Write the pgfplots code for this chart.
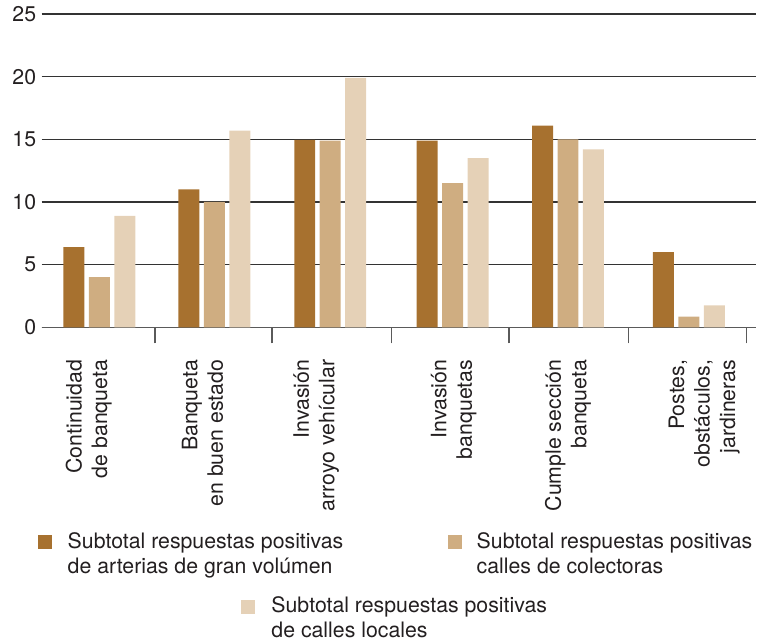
\documentclass[border=0pt]{standalone}
\usepackage{fontspec}
\setmainfont{TeX Gyre Heros}
\usepackage{pgfplots}
\pgfplotsset{compat=1.18}
\definecolor{cA}{HTML}{A7712F}
\definecolor{cB}{HTML}{CFAD81}
\definecolor{cC}{HTML}{E5D1B7}
\definecolor{txt}{HTML}{231F20}
\definecolor{axgray}{HTML}{5A5A5A}
\newcommand{\lf}{\fontsize{21.3}{25.5}\selectfont}
\begin{document}
\begin{tikzpicture}
\begin{axis}[
  x=118pt, y=12.55pt,
  xmin=-0.49, xmax=5.572, ymin=0, ymax=25,
  axis lines*=left,
  x axis line style={draw=axgray, line width=1.5pt},
  y axis line style={draw=none},
  ytick={0,5,...,25},
  ymajorgrids,
  grid style={draw=black!80, line width=1.3pt},
  ytick style={draw=none},
  tick align=outside,
  major tick length=16pt,
  xtick={0.470,1.462,2.479,3.473,4.490,5.490},
  xticklabels={},
  xtick style={draw=axgray, line width=1.5pt},
  extra x ticks={-0.09,0.875,1.838,3.006,3.975,5.13},
  extra x tick labels={{Continuidad\\de banqueta},{Banqueta\\en buen estado},{Invasión\\arroyo vehícular},{Invasión\\banquetas},{Cumple sección\\banqueta},{Postes,\\obstáculos,\\jardineras}},
  extra x tick style={major tick length=0pt, tick style={draw=none}, xticklabel style={rotate=90, anchor=east, align=right}},
  tick label style={font=\lf, text=txt},
  /pgf/number format/assume math mode=true,
  yticklabel shift=-14pt,
  xticklabel shift=29pt,
  ybar=4.5pt, bar width=21pt,
  clip=false,
]
\addplot[fill=cA, draw=none] coordinates {(0,6.4) (0.975,11.0) (1.958,14.95) (2.996,14.9) (3.975,16.1) (5,6.0)};
\addplot[fill=cB, draw=none] coordinates {(0,4.0) (0.975,10.0) (1.958,14.9) (2.996,11.5) (3.975,15.0) (5,0.85)};
\addplot[fill=cC, draw=none] coordinates {(0,8.9) (0.975,15.7) (1.958,19.9) (2.996,13.5) (3.975,14.2) (5,1.75)};
\end{axis}
\path ([shift={(-41.7pt,327.7pt)}]current axis.south west) rectangle ([shift={(715.3pt,-314.3pt)}]current axis.south west);
\node[anchor=north west, inner sep=0] at ([shift={(-3.7pt,-207.3pt)}]current axis.south west) {\textcolor{cA}{\rule{14pt}{14pt}}};
\node[anchor=base west, inner sep=0, font=\lf, text=txt] at ([shift={(25.9pt,-221pt)}]current axis.south west) {Subtotal respuestas positivas};
\node[anchor=base west, inner sep=0, font=\lf, text=txt] at ([shift={(25.9pt,-246.3pt)}]current axis.south west) {de arterias de gran volúmen};
\node[anchor=north west, inner sep=0] at ([shift={(406.3pt,-207.3pt)}]current axis.south west) {\textcolor{cB}{\rule{14pt}{14pt}}};
\node[anchor=base west, inner sep=0, font=\lf, text=txt] at ([shift={(435.3pt,-221pt)}]current axis.south west) {Subtotal respuestas positivas};
\node[anchor=base west, inner sep=0, font=\lf, text=txt] at ([shift={(435.3pt,-246.3pt)}]current axis.south west) {calles de colectoras};
\node[anchor=north west, inner sep=0] at ([shift={(199.8pt,-272.3pt)}]current axis.south west) {\textcolor{cC}{\rule{14pt}{14pt}}};
\node[anchor=base west, inner sep=0, font=\lf, text=txt] at ([shift={(229.8pt,-285pt)}]current axis.south west) {Subtotal respuestas positivas};
\node[anchor=base west, inner sep=0, font=\lf, text=txt] at ([shift={(229.8pt,-310pt)}]current axis.south west) {de calles locales};
\end{tikzpicture}
\end{document}
